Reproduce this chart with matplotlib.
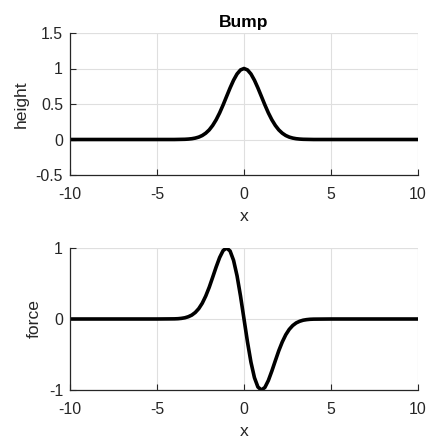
import matplotlib
matplotlib.use("Agg")
import matplotlib.pyplot as plt

plt.rcParams['font.family'] = ['Liberation Sans', 'DejaVu Sans']
plt.rcParams['axes.unicode_minus'] = False

x = [-10, -8, -6, -5,
     -4.0, -3.8, -3.6, -3.4, -3.2, -3.0, -2.8, -2.6, -2.4, -2.2, -2.0,
     -1.8, -1.6, -1.4, -1.2, -1.0, -0.8, -0.6, -0.4, -0.2, 0.0,
     0.2, 0.4, 0.6, 0.8, 1.0, 1.2, 1.4, 1.6, 1.8, 2.0,
     2.2, 2.4, 2.6, 2.8, 3.0, 3.2, 3.4, 3.6, 3.8, 4.0,
     5, 6, 8, 10]

height = [0, 0, 0, 0,
          0.000, 0.001, 0.002, 0.003, 0.006, 0.011, 0.020, 0.034, 0.056, 0.089, 0.135,
          0.198, 0.278, 0.375, 0.487, 0.607, 0.726, 0.835, 0.923, 0.980, 1.000,
          0.980, 0.923, 0.835, 0.726, 0.607, 0.487, 0.375, 0.278, 0.198, 0.135,
          0.089, 0.056, 0.034, 0.020, 0.011, 0.006, 0.003, 0.002, 0.001, 0.000,
          0, 0, 0, 0]

force = [0, 0, 0, 0,
         0.002, 0.004, 0.009, 0.017, 0.032, 0.055, 0.092, 0.146, 0.222, 0.323, 0.446,
         0.588, 0.733, 0.866, 0.964, 1.000, 0.958, 0.826, 0.609, 0.323, 0.000,
         -0.323, -0.609, -0.826, -0.958, -1.000, -0.964, -0.866, -0.733, -0.588, -0.446,
         -0.323, -0.222, -0.146, -0.092, -0.055, -0.032, -0.017, -0.009, -0.004, -0.002,
         0, 0, 0, 0]

xticks = [-10, -5, 0, 5, 10]
xtick_labels = ['-10', '-5', '0', '5', '10']
yticks_top = [-0.5, 0, 0.5, 1, 1.5]
ytick_labels_top = ['-0.5', '0', '0.5', '1', '1.5']
yticks_bot = [-1, 0, 1]
ytick_labels_bot = ['-1', '0', '1']

W, H = 426, 438
fig = plt.figure(figsize=(W / 100, H / 100), dpi=100)

ax_col = '#262626'
grid_col = '#dfdfdf'
TICK_FS = 11.4
LABEL_FS = 12.6

def style(ax):
    for s in ['top', 'right']:
        ax.spines[s].set_visible(False)
    for s in ['left', 'bottom']:
        ax.spines[s].set_color(ax_col)
        ax.spines[s].set_linewidth(0.9)
    ax.tick_params(direction='in', length=4, width=0.8, colors=ax_col,
                   labelsize=TICK_FS)
    ax.tick_params(axis='x', pad=8.5)
    ax.tick_params(axis='y', pad=5)
    ax.grid(True, color=grid_col, linewidth=0.8)
    ax.set_axisbelow(True)

ax1 = fig.add_axes([70 / W, 1 - 175 / H, 348 / W, 142 / H])
ax1.plot(x, height, color='black', linewidth=2.6, solid_capstyle='round')
ax1.set_xlim(-10, 10)
ax1.set_ylim(-0.5, 1.5)
ax1.set_xticks(xticks)
ax1.set_xticklabels(xtick_labels)
ax1.set_yticks(yticks_top)
ax1.set_yticklabels(ytick_labels_top)
ax1.set_xlabel('x', fontsize=LABEL_FS, color=ax_col, labelpad=5.5)
ax1.set_ylabel('height', fontsize=LABEL_FS, color=ax_col, labelpad=5)
ax1.set_title('Bump', fontsize=LABEL_FS, fontweight='bold', color='black', pad=4.5)
style(ax1)
ax1.axhline(1.5, color=grid_col, linewidth=0.8, zorder=0)
ax1.axvline(10, color=grid_col, linewidth=0.8, zorder=0)

ax2 = fig.add_axes([70 / W, 1 - 390 / H, 348 / W, 142 / H])
ax2.plot(x, force, color='black', linewidth=2.6, solid_capstyle='round')
ax2.set_xlim(-10, 10)
ax2.set_ylim(-1, 1)
ax2.set_xticks(xticks)
ax2.set_xticklabels(xtick_labels)
ax2.set_yticks(yticks_bot)
ax2.set_yticklabels(ytick_labels_bot)
ax2.set_xlabel('x', fontsize=LABEL_FS, color=ax_col, labelpad=5.5)
ax2.set_ylabel('force', fontsize=LABEL_FS, color=ax_col, labelpad=5)
style(ax2)
ax2.axhline(1, color=grid_col, linewidth=0.8, zorder=0)
ax2.axvline(10, color=grid_col, linewidth=0.8, zorder=0)

fig.savefig('out.png', dpi=100, facecolor='white')
